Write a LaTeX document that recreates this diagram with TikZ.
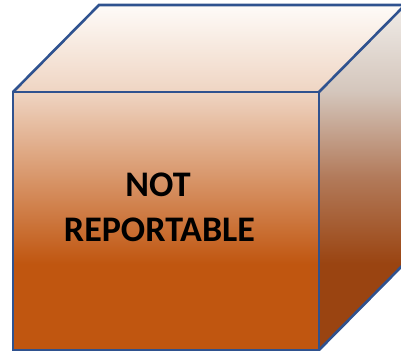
\documentclass[tikz,border=0pt]{standalone}
\usepackage{fontspec}
\setmainfont{Carlito}
\definecolor{edgeblue}{HTML}{2F528F}
\definecolor{cA}{RGB}{254,251,248}
\definecolor{cB}{RGB}{239,213,195}
\definecolor{cC}{RGB}{216,150,106}
\definecolor{cD}{RGB}{192,86,16}
\definecolor{rA}{RGB}{240,236,232}
\definecolor{rB}{RGB}{212,198,188}
\definecolor{rC}{RGB}{178,122,90}
\definecolor{rD}{RGB}{154,68,17}
\pgfdeclareverticalshading{frontshade}{100bp}{color(0bp)=(cD); color(37.5bp)=(cD); color(50bp)=(cC); color(62.5bp)=(cB); color(75bp)=(cA); color(100bp)=(cA)}
\pgfdeclareverticalshading{sideshade}{100bp}{color(0bp)=(rD); color(37.5bp)=(rD); color(50bp)=(rC); color(62.5bp)=(rB); color(75bp)=(rA); color(100bp)=(rA)}
\tikzset{
  edge/.style={draw=edgeblue, line width=2.6bp, line join=miter},
  label/.style={font=\bfseries\fontsize{36bp}{42bp}\selectfont, text=black, inner sep=0pt, anchor=base}
}
\begin{document}
\begin{tikzpicture}[x=1bp,y=-1bp]
\useasboundingbox (0,0) rectangle (401,351);
% corners
\coordinate (fTL) at (13,92);
\coordinate (fTR) at (319,92);
\coordinate (fBR) at (319,350);
\coordinate (fBL) at (13,350);
\coordinate (bTL) at (99,5);
\coordinate (bTR) at (405,5);
\coordinate (bBR) at (405,263);
% front face
\begin{scope}
  \clip (fTL) -- (fTR) -- (fBR) -- (fBL) -- cycle;
  \shade[shading=frontshade] (0,5) rectangle (420,350);
\end{scope}
% top face
\begin{scope}
  \clip (fTL) -- (bTL) -- (bTR) -- (fTR) -- cycle;
  \shade[shading=frontshade] (0,5) rectangle (420,350);
\end{scope}
% right face
\begin{scope}
  \clip (fTR) -- (bTR) -- (bBR) -- (fBR) -- cycle;
  \shade[shading=sideshade] (0,5) rectangle (420,350);
\end{scope}
% edges
\draw[edge] (fTL) -- (fTR) -- (fBR) -- (fBL) -- cycle;
\draw[edge] (fTL) -- (bTL) -- (bTR) -- (fTR);
\draw[edge] (bTR) -- (bBR) -- (fBR);
% text
\node[label] (t1) at (158,196) {NOT};
\node[label] (t2) at (159.5,241) {REPORTABLE};
\end{tikzpicture}
\end{document}
